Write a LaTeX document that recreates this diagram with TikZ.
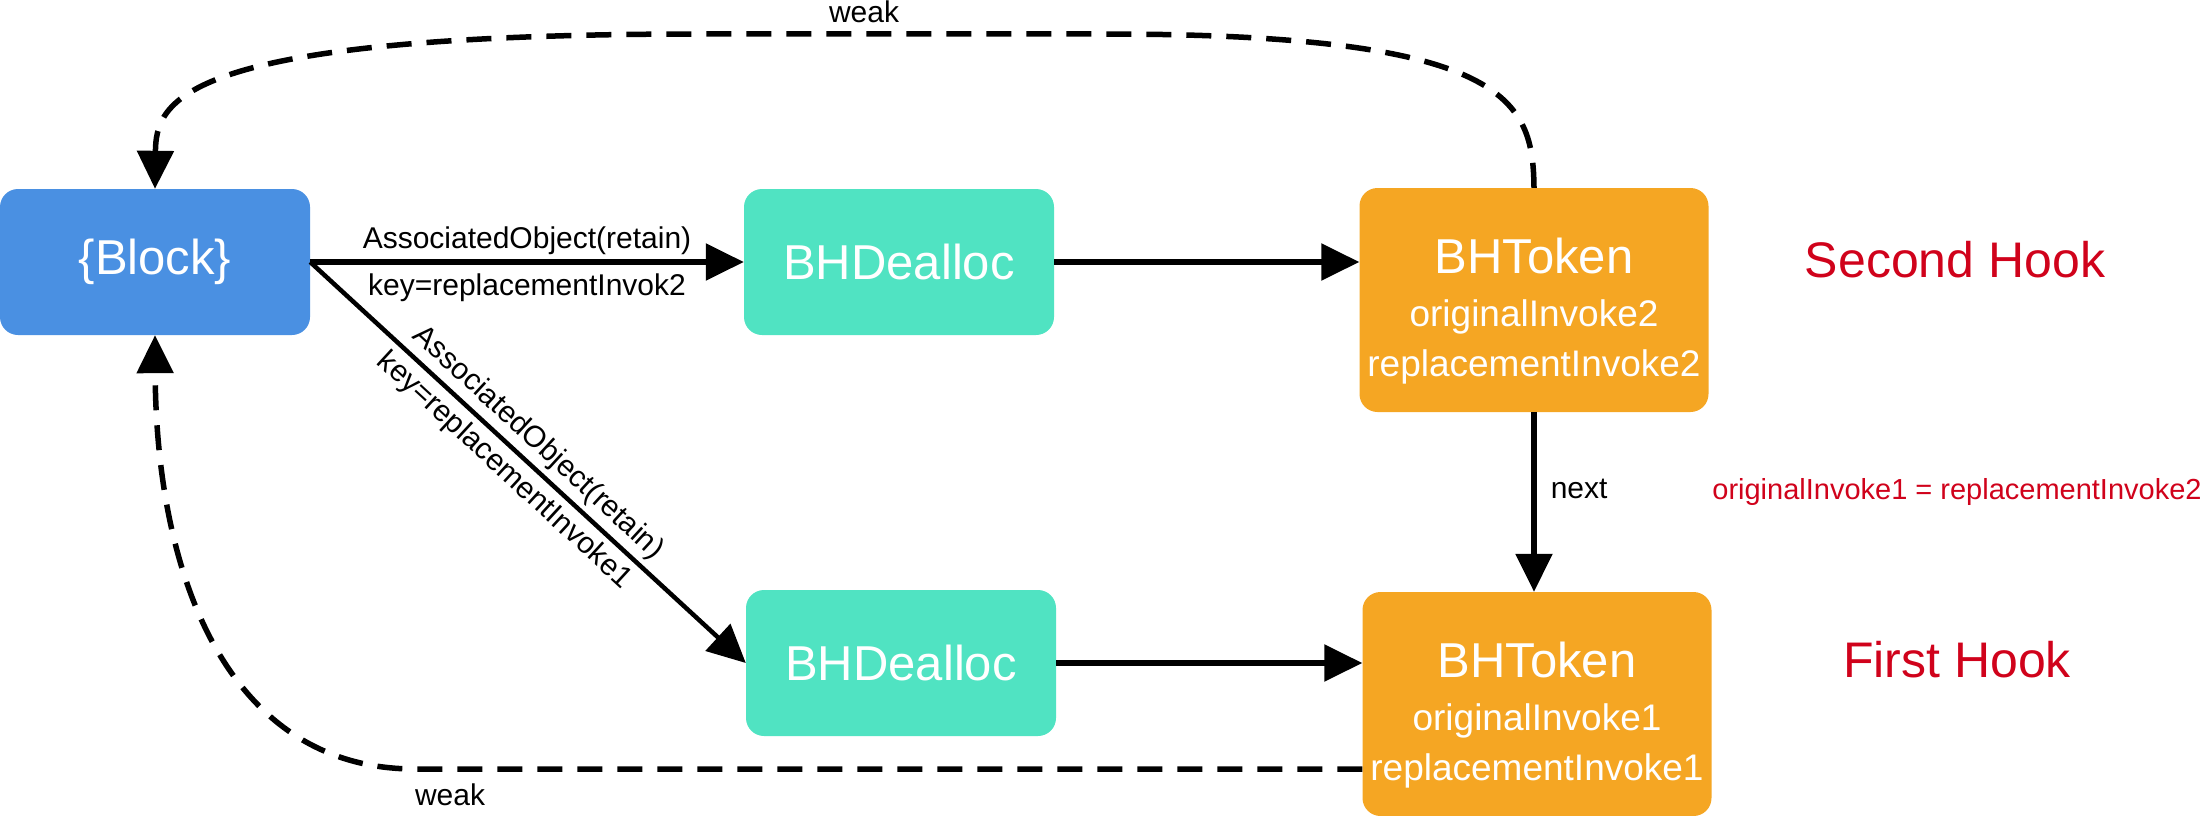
\documentclass[tikz,border=0pt]{standalone}
\usepackage{fontspec}
\setmainfont{Liberation Sans}
\usetikzlibrary{arrows.meta,calc}
\definecolor{blockblue}{HTML}{4A90E2}
\definecolor{dealteal}{HTML}{50E3C2}
\definecolor{tokorange}{HTML}{F5A623}
\definecolor{hookred}{HTML}{D0021B}
\begin{document}
\begin{tikzpicture}[x=1pt,y=-1pt,
  box/.style={rounded corners=18pt, inner sep=0pt, text=white, align=center},
  blockbox/.style={box, fill=blockblue, minimum width=310pt, minimum height=146pt, font=\fontsize{49}{58}\selectfont},
  dealbox/.style={box, fill=dealteal, minimum width=310pt, minimum height=146pt, font=\fontsize{49}{58}\selectfont},
  tokbox/.style={box, fill=tokorange, minimum width=349pt, minimum height=224pt, font=\fontsize{37}{50}\selectfont},
  conn/.style={line width=5.5pt, -{Triangle[length=38pt,width=36pt]}},
  diagconn/.style={conn, line width=4.5pt},
  weakconn/.style={conn, line width=5.5pt, dash pattern=on 25pt off 15pt},
  lbl/.style={font=\fontsize{30}{36}\selectfont, text=black, inner sep=0pt},
  hook/.style={font=\fontsize{50}{60}\selectfont, text=hookred, inner sep=0pt},
  note/.style={font=\fontsize{29}{36}\selectfont, text=hookred, inner sep=0pt}
]
\useasboundingbox (0,0) rectangle (2208,816);

\node[blockbox] (block) at (155,262) {\{Block\}};
\node[dealbox] (deal2) at (899,262) {BHDealloc};
\node[dealbox] (deal1) at (901,663) {BHDealloc};
\node[tokbox] (tok2) at (1534,300) {\rule{0pt}{58pt}{\fontsize{49}{50}\selectfont BHToken}\\[3pt]originalInvoke2\\replacementInvoke2};
\node[tokbox] (tok1) at (1537,704) {\rule{0pt}{58pt}{\fontsize{49}{50}\selectfont BHToken}\\[3pt]originalInvoke1\\replacementInvoke1};

\node[hook] (sh) at (1955,260) {Second Hook};
\node[hook] (fh) at (1957,660) {First Hook};
\node[note] (eq) at (1957,492) {originalInvoke1 = replacementInvoke2};

\draw[conn] (block.east) -- node[lbl, above=5pt] {AssociatedObject(retain)} node[lbl, below=9pt] {key=replacementInvok2} (deal2.west);
\draw[diagconn] (block.east) -- node[lbl, sloped, above=5pt, pos=0.49] {AssociatedObject(retain)} node[lbl, sloped, below=6pt, pos=0.48] {key=replacementInvoke1} (deal1.west);
\draw[conn] (deal2.east) -- (deal2.east -| tok2.west);
\draw[conn] (deal1.east) -- (deal1.east -| tok1.west);
\draw[conn] (tok2.south) -- node[lbl, right=14pt, pos=0.43] {next} (tok2.south |- tok1.north);

\draw[weakconn] (tok2.north) .. controls (1533,100) and (1509,34) .. (1104,34) -- node[lbl, above=8pt, pos=0.594] {weak} (700,34) .. controls (177,34) and (156,101) .. (block.north);
\draw[weakconn] ($(tok1.south west)+(0,-47)$) -- node[lbl, below=12pt, pos=0.963] {weak} (415,769) .. controls (230,769) and (156,580) .. (block.south);
\end{tikzpicture}
\end{document}
